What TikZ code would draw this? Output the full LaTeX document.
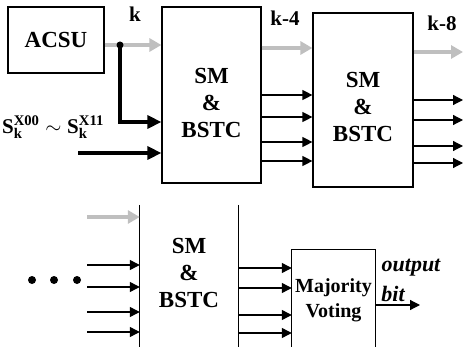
\documentclass[tikz,border=0pt]{standalone}
\usepackage{amsmath}
\usepackage{fontspec}
\setmainfont{Liberation Serif}
\usepackage{tikz}
\usetikzlibrary{arrows.meta, positioning}

\begin{document}
\begin{tikzpicture}[
    x=1pt, y=-1pt,
    every node/.style={font=\fontsize{23}{27}\selectfont\bfseries, inner sep=0pt},
    blk/.style={draw, line width=1.2pt, rectangle, minimum width=#1},
    lbl/.style={font=\fontsize{21}{24}\selectfont\bfseries},
    sig/.style={-{Triangle[length=10pt, width=10pt]}, line width=1.2pt},
    fat/.style={-{Triangle[length=14pt, width=13pt]}, line width=3.2pt},
    grey/.style={-{Triangle[length=12pt, width=13pt]}, line width=3.5pt, gray!50},
]
\useasboundingbox (0,0) rectangle (465,347);

% === Upper row ===
\node[blk=96pt, minimum height=66pt] (acsu) at (56,40) {ACSU};
\node[blk=99pt, minimum height=176pt] (sm1) at (211.5,95) {};
\node[align=center] (sm1txt) at (211.5,103) {SM\\\&\\BSTC};
\node[blk=100pt, minimum height=174pt] (sm2) at (363,100) {};
\node[align=center] (sm2txt) at (363,107) {SM\\\&\\BSTC};

\node[lbl] (k) at (135,14) {k};
\node[lbl] (k4) at (285,18) {k-4};
\node[lbl] (k8) at (442,23) {k-8};

\node[font=\fontsize{21}{24}\selectfont\bfseries] (state) at (53,127)
    {$\textbf{S}^{\textbf{X00}}_{\textbf{k}}\sim\textbf{S}^{\textbf{X11}}_{\textbf{k}}$};

\coordinate (tap) at (120,45);
\coordinate (sin) at (78,153);
\coordinate (rim) at (463,0);

\draw[grey] (acsu.east |- tap) -- (sm1.west |- tap);
\fill (tap) circle (3.5pt);
\draw[fat] (tap) |- (sm1.west |- 0,122);
\draw[fat] (sin) -- (sm1.west |- sin);

\draw[grey] (sm1.east |- 0,48) -- (sm2.west |- 0,48);
\foreach \y in {95,117,142,161}
    \draw[sig] (sm1.east |- 0,\y) -- (sm2.west |- 0,\y);

\draw[grey] (sm2.east |- 0,52) -- (rim |- 0,52);
\foreach \y in {100,120,146,163}
    \draw[sig] (sm2.east |- 0,\y) -- (rim |- 0,\y);

% === Lower row ===
\node[minimum width=98pt, minimum height=142pt] (sm3) at (189,276) {};
\draw[line width=1.2pt] (sm3.north west) -- (sm3.south west);
\draw[line width=1.2pt] (sm3.north east) -- (sm3.south east);
\node[align=center] (sm3txt) at (189,273) {SM\\\&\\BSTC};

\node[minimum width=83pt, minimum height=97pt] (vote) at (333.5,298.5) {};
\draw[line width=1.2pt] (vote.south west) -- (vote.north west) -- (vote.north east) -- (vote.south east);
\node[align=center, font=\fontsize{20}{25}\selectfont\bfseries] (votetxt) at (333.5,300) {Majority\\Voting};

\coordinate (lin) at (87,0);
\draw[grey] (lin |- 0,217) -- (sm3.west |- 0,217);
\foreach \y in {265,287,312,332}
    \draw[sig] (lin |- 0,\y) -- (sm3.west |- 0,\y);
\foreach \x in {32,54,77}
    \fill (\x,280) circle (4pt);

\foreach \y in {268,288,315,333}
    \draw[sig] (sm3.east |- 0,\y) -- (vote.west |- 0,\y);

\coordinate (res) at (420,305);
\draw[sig] (vote.east |- res) -- (res);
\node[font=\fontsize{22}{24}\selectfont\bfseries\itshape] (outtxt) at (411,268) {output};
\node[font=\fontsize{22}{24}\selectfont\bfseries\itshape] (bittxt) at (393,294) {bit};

\end{tikzpicture}
\end{document}
